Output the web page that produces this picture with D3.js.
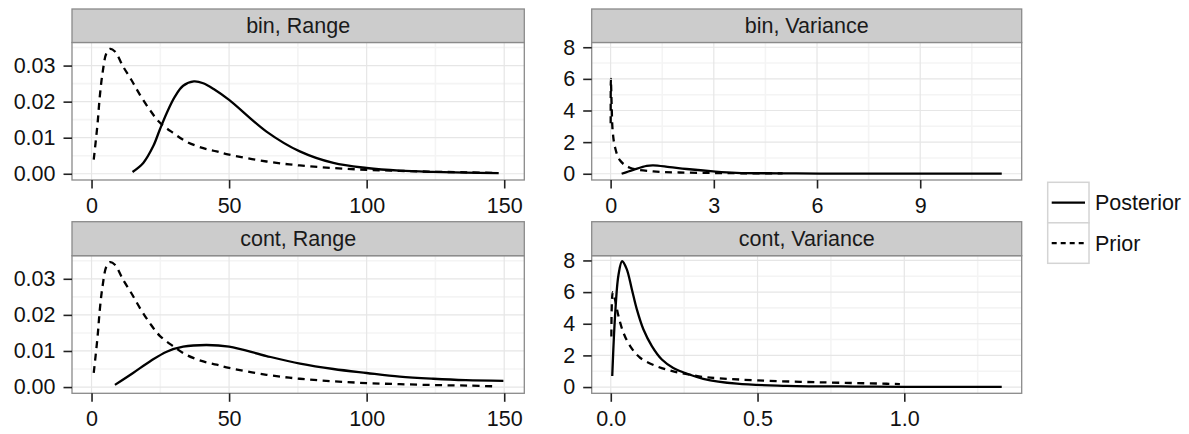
<!DOCTYPE html>
<html>
<head>
<meta charset="utf-8">
<script src="https://cdn.jsdelivr.net/npm/d3@7"></script>
<style>
  body { margin: 0; background: #fff; }
  text { font-family: "Liberation Sans", Arial, Helvetica, sans-serif; }
</style>
</head>
<body>
<svg id="chart" width="1189" height="434"></svg>
<script>
// ---- Density curves (x, density) per facet ----
// Prior on the range parameter (same in both "Range" facets)
const priorRangeX = [0.8, 2.2, 3.0, 4.0, 5.4, 6.7, 8.5, 11.5, 14.5, 17.6, 21.2, 24.8, 29.7, 34.5, 40.6, 45.5, 50, 63.6, 75.7, 87.8, 100, 112, 125, 137, 147];
const priorRangeY = [0.0039, 0.014, 0.0214, 0.0279, 0.0334, 0.0346, 0.0339, 0.0297, 0.026, 0.0219, 0.0177, 0.0142, 0.0113, 0.0089, 0.0071, 0.0062, 0.0053, 0.0034, 0.0023, 0.0016, 0.0011, 0.0008, 0.00055, 0.0004, 0.0002];

// Posterior, binary outcome, range
const postBinRangeX = [14.9, 18.8, 22.4, 24.8, 27.3, 30.3, 33.3, 37.2, 40.6, 44.8, 50, 63.6, 75.7, 87.9, 100, 112, 124, 136, 148];
const postBinRangeY = [0.0005, 0.0030, 0.0076, 0.0122, 0.0168, 0.0214, 0.0244, 0.0256, 0.0251, 0.0233, 0.0205, 0.0117, 0.0062, 0.0030, 0.0016, 0.00085, 0.0005, 0.0003, 0.0002];

// Posterior, continuous outcome, range
const postContRangeX = [8.5, 15.1, 21.2, 27.3, 33.3, 41.8, 50, 63.6, 75.8, 87.9, 100, 112, 124.2, 136, 149.7];
const postContRangeY = [0.0006, 0.0039, 0.0071, 0.0098, 0.0112, 0.01165, 0.0112, 0.0086, 0.0065, 0.0050, 0.0039, 0.0029, 0.0023, 0.0019, 0.0017];

// Prior on the variance parameter
const priorBinVarX = [0.002, 0.007, 0.015, 0.03, 0.06, 0.125, 0.27, 0.56, 1.24, 2.0, 3.0, 4.0, 5.0];
const priorBinVarY = [3.2, 6.0, 5.5, 4.3, 2.7, 1.7, 0.85, 0.38, 0.15, 0.08, 0.05, 0.03, 0.02];
const priorContVarX = [0.002, 0.007, 0.0147, 0.026, 0.043, 0.066, 0.1, 0.157, 0.213, 0.27, 0.327, 0.372, 0.497, 0.713, 0.94, 0.985];
const priorContVarY = [3.2, 6.0, 5.5, 4.5, 3.44, 2.59, 1.85, 1.31, 0.99, 0.78, 0.61, 0.55, 0.42, 0.30, 0.21, 0.19];

// Posterior, binary outcome, variance
const postBinVarX = [0.32, 0.66, 1.05, 1.24, 1.72, 2.21, 2.98, 3.66, 5.4, 7, 9, 11.37];
const postBinVarY = [0.0, 0.25, 0.5, 0.53, 0.42, 0.30, 0.15, 0.06, 0.02, 0.01, 0.005, 0.002];

// Posterior, continuous outcome, variance
const postContVarX = [0.005, 0.0146, 0.026, 0.0385, 0.054, 0.0715, 0.0886, 0.111, 0.14, 0.174, 0.213, 0.27, 0.315, 0.43, 0.6, 0.83, 1.0, 1.332];
const postContVarY = [0.7, 4.5, 7.05, 7.95, 7.47, 6.2, 4.92, 3.65, 2.59, 1.74, 1.21, 0.78, 0.52, 0.21, 0.08, 0.03, 0.015, 0.005];

// ---- Axis ticks ----
const rangeXTicks = [0, 50, 100, 150];
const binVarXTicks = [0, 3, 6, 9];
const contVarXTicks = [0, 0.5, 1.0];
const rangeYTicks = [0, 0.01, 0.02, 0.03];
const varYTicks = [0, 2, 4, 6, 8];

const seriesNames = ["Posterior", "Prior"];

// ---- Layout ----
const svg = d3.select("#chart");
svg.append("rect").attr("width", 1189).attr("height", 434).attr("fill", "#fff");

const cols = [[72, 524.3], [591.7, 1021.7]];
const rows = [{ strip: 9, top: 42.5, bottom: 180 }, { strip: 221.7, top: 255.7, bottom: 393.3 }];
const fontSize = 21.5;

const pair = (xs, ys) => xs.map((x, i) => ({ x, y: ys[i] }));
const midpoints = t => t.slice(1).map((v, i) => (v + t[i]) / 2);

const panels = [
  { title: "bin, Range", col: 0, row: 0, xDomain: [-7.1, 157.3], yDomain: [-0.00173, 0.0364],
    xTicks: rangeXTicks, yTicks: rangeYTicks, xFmt: d3.format("d"), yFmt: d3.format(".2f"),
    lines: [pair(postBinRangeX, postBinRangeY), pair(priorRangeX, priorRangeY)] },
  { title: "bin, Variance", col: 1, row: 0, xDomain: [-0.55, 11.95], yDomain: [-0.395, 8.3],
    xTicks: binVarXTicks, yTicks: varYTicks, xFmt: d3.format("d"), yFmt: d3.format("d"),
    lines: [pair(postBinVarX, postBinVarY), pair(priorBinVarX, priorBinVarY)] },
  { title: "cont, Range", col: 0, row: 1, xDomain: [-7.1, 157.3], yDomain: [-0.00173, 0.0364],
    xTicks: rangeXTicks, yTicks: rangeYTicks, xFmt: d3.format("d"), yFmt: d3.format(".2f"),
    lines: [pair(postContRangeX, postContRangeY), pair(priorRangeX, priorRangeY)] },
  { title: "cont, Variance", col: 1, row: 1, xDomain: [-0.065, 1.40], yDomain: [-0.395, 8.3],
    xTicks: contVarXTicks, yTicks: varYTicks, xFmt: d3.format(".1f"), yFmt: d3.format("d"),
    lines: [pair(postContVarX, postContVarY), pair(priorContVarX, priorContVarY)] }
];

const dashes = { Posterior: null, Prior: "7,5.5" };

panels.forEach(p => {
  const [x0, x1] = cols[p.col];
  const r = rows[p.row];
  const x = d3.scaleLinear().domain(p.xDomain).range([x0, x1]);
  const y = d3.scaleLinear().domain(p.yDomain).range([r.bottom, r.top]);
  const g = svg.append("g");

  // panel background
  g.append("rect").attr("x", x0).attr("y", r.top).attr("width", x1 - x0).attr("height", r.bottom - r.top)
    .attr("fill", "#fff");

  // minor grid
  const clipX = v => v > p.xDomain[0] && v < p.xDomain[1];
  const clipY = v => v > p.yDomain[0] && v < p.yDomain[1];
  const xStep = p.xTicks[1] - p.xTicks[0], yStep = p.yTicks[1] - p.yTicks[0];
  const xMinor = midpoints([...p.xTicks, p.xTicks[p.xTicks.length - 1] + xStep]).filter(clipX);
  const yMinor = midpoints([...p.yTicks, p.yTicks[p.yTicks.length - 1] + yStep]).filter(clipY);
  g.selectAll(".gxm").data(xMinor).join("line")
    .attr("x1", d => x(d)).attr("x2", d => x(d)).attr("y1", r.top).attr("y2", r.bottom)
    .attr("stroke", "#f4f4f4").attr("stroke-width", 1.6);
  g.selectAll(".gym").data(yMinor).join("line")
    .attr("y1", d => y(d)).attr("y2", d => y(d)).attr("x1", x0).attr("x2", x1)
    .attr("stroke", "#f4f4f4").attr("stroke-width", 1.6);
  // major grid
  g.selectAll(".gx").data(p.xTicks).join("line")
    .attr("x1", d => x(d)).attr("x2", d => x(d)).attr("y1", r.top).attr("y2", r.bottom)
    .attr("stroke", "#e6e6e6").attr("stroke-width", 1.2);
  g.selectAll(".gy").data(p.yTicks).join("line")
    .attr("y1", d => y(d)).attr("y2", d => y(d)).attr("x1", x0).attr("x2", x1)
    .attr("stroke", "#e6e6e6").attr("stroke-width", 1.2);

  // curves
  const line = d3.line().x(d => x(d.x)).y(d => y(d.y)).curve(d3.curveCatmullRom.alpha(0.5));
  p.lines.forEach((pts, i) => {
    g.append("path").attr("d", line(pts)).attr("fill", "none").attr("stroke", "#000")
      .attr("stroke-width", 2.3).attr("stroke-dasharray", dashes[seriesNames[i]]);
  });

  // panel border
  g.append("rect").attr("x", x0).attr("y", r.top).attr("width", x1 - x0).attr("height", r.bottom - r.top)
    .attr("fill", "none").attr("stroke", "#8a8a8a").attr("stroke-width", 1.3);

  // strip
  g.append("rect").attr("x", x0).attr("y", r.strip).attr("width", x1 - x0).attr("height", r.top - r.strip)
    .attr("fill", "#cccccc").attr("stroke", "#8a8a8a").attr("stroke-width", 1.3);
  g.append("text").attr("x", (x0 + x1) / 2).attr("y", (r.strip + r.top) / 2).attr("dy", "0.35em")
    .attr("text-anchor", "middle").attr("font-size", fontSize).attr("fill", "#1a1a1a").text(p.title);

  // axes
  const ax = g.append("g").attr("transform", `translate(0,${r.bottom})`)
    .call(d3.axisBottom(x).tickValues(p.xTicks).tickFormat(p.xFmt).tickSize(8.5).tickPadding(9));
  const ay = g.append("g").attr("transform", `translate(${x0},0)`)
    .call(d3.axisLeft(y).tickValues(p.yTicks).tickFormat(p.yFmt).tickSize(8.5).tickPadding(8));
  [ax, ay].forEach(a => {
    a.select(".domain").remove();
    a.selectAll("line").attr("stroke", "#222").attr("stroke-width", 1.6);
    a.selectAll("text").attr("font-size", fontSize).attr("fill", "#111")
      .attr("font-family", "'Liberation Sans', Arial, sans-serif");
  });
});

// ---- Legend ----
const legend = svg.append("g");
const keyX = 1047.7, keyW = 41.3, keyTop = 182.3, keyH = 40.5;
seriesNames.forEach((name, i) => {
  const ky = keyTop + i * keyH;
  legend.append("rect").attr("x", keyX).attr("y", ky).attr("width", keyW).attr("height", keyH)
    .attr("fill", "#fff").attr("stroke", "#d4d4d4").attr("stroke-width", 1.5);
  legend.append("line").attr("x1", keyX + 4).attr("x2", keyX + keyW - 4)
    .attr("y1", ky + keyH / 2).attr("y2", ky + keyH / 2)
    .attr("stroke", "#000").attr("stroke-width", 2.3).attr("stroke-dasharray", name === "Prior" ? "5,4" : null);
  legend.append("text").attr("x", 1095).attr("y", ky + keyH / 2).attr("dy", "0.35em")
    .attr("font-size", fontSize).attr("fill", "#111").text(name);
});
</script>
</body>
</html>
